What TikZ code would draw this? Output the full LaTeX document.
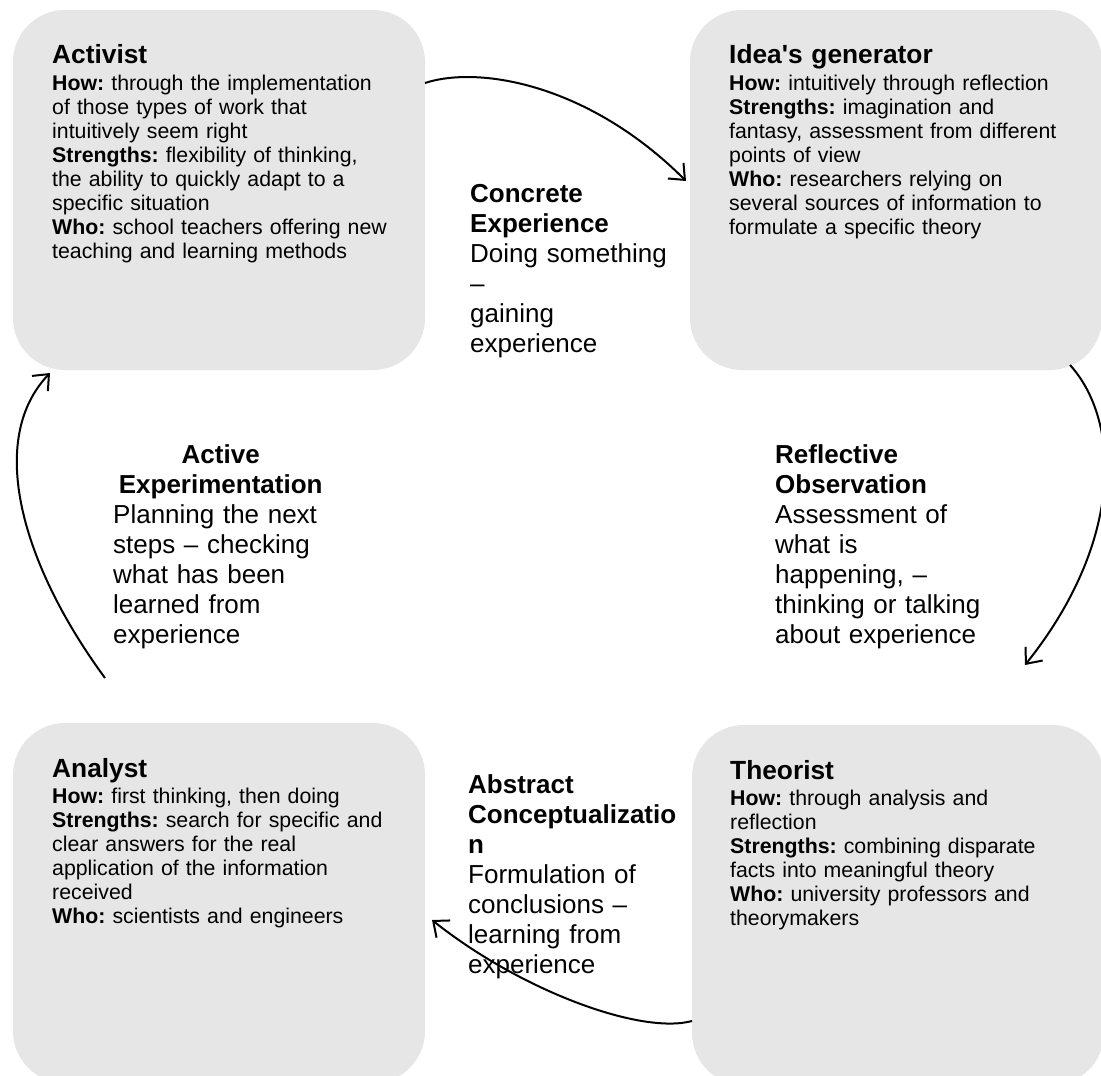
\documentclass[tikz,border=0pt]{standalone}
\usepackage{fontspec}
\setmainfont{Liberation Sans}
\newfontfamily\plainapos{Liberation Sans}
\usetikzlibrary{arrows.meta,calc}
\definecolor{boxgray}{RGB}{230,230,230}
\frenchspacing
\tikzset{
  stylebox/.style={fill=boxgray,draw=none,rounded corners=52pt,minimum width=412pt,minimum height=360pt,inner sep=0pt,outer sep=0pt},
  boxtitle/.style={anchor=base west,inner sep=0pt,align=left,text width=380pt,font=\fontsize{26.3}{30}\selectfont\bfseries},
  boxbody/.style={anchor=base west,inner sep=0pt,align=left,text width=390pt,font=\fontsize{21.3}{24.1}\selectfont},
  stagelabel/.style={anchor=base west,inner sep=0pt,align=left,text width=240pt,font=\fontsize{26}{30}\selectfont},
  arr/.style={line width=2pt,-{Straight Barb[length=13pt,width=22pt,line width=2pt]}}
}
\begin{document}
\begin{tikzpicture}[x=1pt,y=-1pt]
\clip (0,0) rectangle (1101,1076);
\fill[white] (0,0) rectangle (1101,1076);
% boxes
\node[stylebox] (act) at (219,190) {};
\node[stylebox] (idea) at (896,190) {};
\node[stylebox] (ana) at (219,903) {};
\node[stylebox] (theo) at (898,905) {};
% box texts
\node[boxtitle] (actT) at (52,63) {Activist};
\node[boxbody] (actB) at (52,90) {\frenchspacing\textbf{How:} through the implementation\\
of those types of work that\\
intuitively seem right\\
\textbf{Strengths:} flexibility of thinking,\\
the ability to quickly adapt to a\\
specific situation\\
\textbf{Who:} school teachers offering new\\
teaching and learning methods};
\node[boxtitle] (ideaT) at (729,63) {Idea{\plainapos\bfseries '}s generator};
\node[boxbody] (ideaB) at (729,90) {\frenchspacing\textbf{How:} intuitively through reflection\\
\textbf{Strengths:} imagination and\\
fantasy, assessment from different\\
points of view\\
\textbf{Who:} researchers relying on\\
several sources of information to\\
formulate a specific theory};
\node[boxtitle] (anaT) at (52,777) {Analyst};
\node[boxbody] (anaB) at (52,803) {\frenchspacing\textbf{How:} first thinking, then doing\\
\textbf{Strengths:} search for specific and\\
clear answers for the real\\
application of the information\\
received\\
\textbf{Who:} scientists and engineers};
\node[boxtitle] (theoT) at (730,779) {Theorist};
\node[boxbody] (theoB) at (730,805) {\frenchspacing\textbf{How:} through analysis and\\
reflection\\
\textbf{Strengths:} combining disparate\\
facts into meaningful theory\\
\textbf{Who:} university professors and\\
theorymakers};
% stage labels
\node[stagelabel] (ce) at (470,202) {\textbf{Concrete}\\
\textbf{Experience}\\
Doing something\\
–\\
gaining\\
experience};
\node[stagelabel] (ro) at (775,463) {\textbf{Reflective}\\
\textbf{Observation}\\
Assessment of\\
what is\\
happening, –\\
thinking or talking\\
about experience};
\node[stagelabel] (ac) at (468,793) {\textbf{Abstract}\\
\textbf{Conceptualizatio}\\
\textbf{n}\\
Formulation of\\
conclusions –\\
learning from\\
experience};
\node[stagelabel,text width=215pt] (ae) at (113,463) {\makebox[\linewidth]{\textbf{Active}}\\
\makebox[\linewidth]{\textbf{Experimentation}}\\
Planning the next\\
steps – checking\\
what has been\\
learned from\\
experience};
% arrow end points
\coordinate (e1) at ($(idea.north west)+(-4,171)$);
\coordinate (e2) at ($(theo.north west)+(333,-60)$);
\coordinate (e3) at ($(ana.north east)+(7,197)$);
\coordinate (e4) at ($(act.south west)+(37,3)$);
% arrows
\draw[arr] ($(act.north east)+(0,73)$) .. controls (480,65) and (590,85) .. (e1);
\draw[arr] ($(idea.south east)+(-32,-5)$) .. controls (1120,420) and (1125,540) .. (e2);
\draw[arr] ($(theo.north west)+(0,296)$) .. controls (640,1035) and (520,990) .. (e3);
\draw[arr] ($(ana.north west)+(92,-45)$) .. controls (22,565) and (-14,440) .. (e4);
\end{tikzpicture}
\end{document}
